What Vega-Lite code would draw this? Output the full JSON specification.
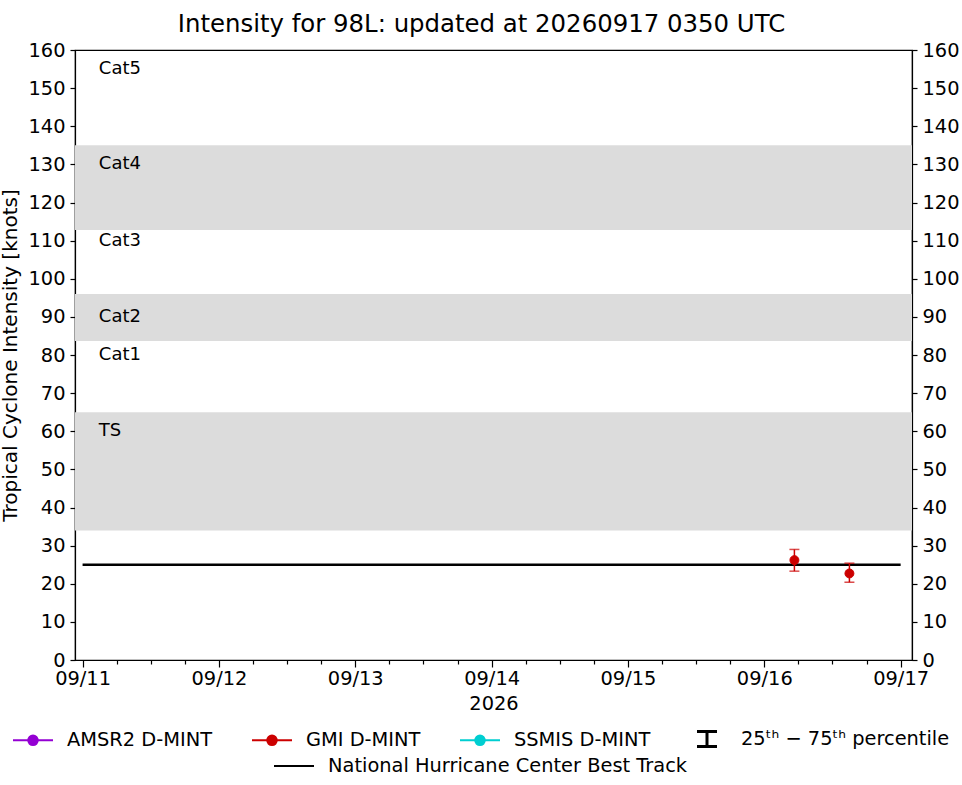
{
  "$schema": "https://vega.github.io/schema/vega-lite/v6.json",
  "width": 837,
  "height": 610,
  "autosize": {"type": "none"},
  "padding": {"left": 75, "top": 50, "right": 50, "bottom": 125},
  "background": "white",
  "title": {"text": "Intensity for 98L: updated at 20260917 0350 UTC", "font": "DejaVu Sans", "fontSize": 24.4, "fontWeight": "normal", "color": "black", "anchor": "middle", "frame": "group", "dx": -12, "offset": 3},
  "config": {
    "font": "DejaVu Sans",
    "view": {"stroke": "black", "strokeWidth": 1.2},
    "axis": {"grid": false, "domainColor": "black", "domainWidth": 1.2, "tickColor": "black", "tickWidth": 1.2, "labelColor": "black", "titleColor": "black", "labelFont": "DejaVu Sans", "titleFont": "DejaVu Sans", "labelFontSize": 19.4, "titleFontSize": 19.4, "titleFontWeight": "normal"},
    "legend": {"labelFont": "DejaVu Sans", "labelFontSize": 19.4, "labelColor": "black", "labelOffset": 13, "labelLimit": 0, "columnPadding": 35, "padding": 0, "symbolSize": 1600, "symbolStrokeWidth": 2}
  },
  "datasets": {
    "bands": [{"lo": 34, "hi": 65}, {"lo": 83.7, "hi": 96}, {"lo": 112.8, "hi": 135}],
    "cats": [
      {"time": "2026-09-11T02:52:00Z", "v": 155, "label": "Cat5"},
      {"time": "2026-09-11T02:52:00Z", "v": 130, "label": "Cat4"},
      {"time": "2026-09-11T02:52:00Z", "v": 110, "label": "Cat3"},
      {"time": "2026-09-11T02:52:00Z", "v": 90, "label": "Cat2"},
      {"time": "2026-09-11T02:52:00Z", "v": 80, "label": "Cat1"},
      {"time": "2026-09-11T02:52:00Z", "v": 60, "label": "TS"}
    ],
    "besttrack": [
      {"time": "2026-09-11T00:00:00Z", "vmax": 25, "track": "National Hurricane Center Best Track"},
      {"time": "2026-09-11T12:00:00Z", "vmax": 25, "track": "National Hurricane Center Best Track"},
      {"time": "2026-09-12T00:00:00Z", "vmax": 25, "track": "National Hurricane Center Best Track"},
      {"time": "2026-09-12T12:00:00Z", "vmax": 25, "track": "National Hurricane Center Best Track"},
      {"time": "2026-09-13T00:00:00Z", "vmax": 25, "track": "National Hurricane Center Best Track"},
      {"time": "2026-09-13T12:00:00Z", "vmax": 25, "track": "National Hurricane Center Best Track"},
      {"time": "2026-09-14T00:00:00Z", "vmax": 25, "track": "National Hurricane Center Best Track"},
      {"time": "2026-09-14T12:00:00Z", "vmax": 25, "track": "National Hurricane Center Best Track"},
      {"time": "2026-09-15T00:00:00Z", "vmax": 25, "track": "National Hurricane Center Best Track"},
      {"time": "2026-09-15T12:00:00Z", "vmax": 25, "track": "National Hurricane Center Best Track"},
      {"time": "2026-09-16T00:00:00Z", "vmax": 25, "track": "National Hurricane Center Best Track"},
      {"time": "2026-09-16T12:00:00Z", "vmax": 25, "track": "National Hurricane Center Best Track"},
      {"time": "2026-09-17T00:00:00Z", "vmax": 25, "track": "National Hurricane Center Best Track"}
    ],
    "dmint": [
      {"time": "2026-09-16T05:18:00Z", "series": "GMI D-MINT", "vmax": 26.2, "p25": 23.3, "p75": 29.0},
      {"time": "2026-09-16T14:59:00Z", "series": "GMI D-MINT", "vmax": 22.7, "p25": 20.4, "p75": 25.4}
    ]
  },
  "layer": [
    {
      "data": {"name": "bands"},
      "mark": {"type": "rect", "color": "#dcdcdc"},
      "encoding": {
        "y": {"field": "lo", "type": "quantitative", "scale": {"domain": [0, 160], "nice": false}, "axis": {"orient": "left", "values": [0, 10, 20, 30, 40, 50, 60, 70, 80, 90, 100, 110, 120, 130, 140, 150, 160], "tickSize": 5, "labelPadding": 5, "title": "Tropical Cyclone Intensity [knots]", "titleFontSize": 20, "titlePadding": 7}},
        "y2": {"field": "hi"}
      }
    },
    {
      "data": {"name": "cats"},
      "mark": {"type": "text", "align": "left", "baseline": "middle", "font": "DejaVu Sans", "fontSize": 18, "color": "black"},
      "encoding": {
        "x": {"field": "time", "type": "temporal", "scale": {"type": "utc", "domain": [{"year": 2026, "month": 9, "date": 10, "hours": 22, "minutes": 40, "utc": true}, {"year": 2026, "month": 9, "date": 17, "hours": 2, "minutes": 0, "utc": true}]}, "axis": null},
        "y": {"field": "v", "type": "quantitative", "scale": {"domain": [0, 160], "nice": false}, "axis": null},
        "text": {"field": "label"}
      }
    },
    {
      "data": {"name": "besttrack"},
      "mark": {"type": "line", "strokeWidth": 2.5},
      "encoding": {
        "x": {"field": "time", "type": "temporal", "axis": {"orient": "bottom", "labelExpr": "utcFormat(datum.value, '%m/%d')", "values": [
          {"year": 2026, "month": 9, "date": 11, "utc": true}, {"year": 2026, "month": 9, "date": 12, "utc": true}, {"year": 2026, "month": 9, "date": 13, "utc": true}, {"year": 2026, "month": 9, "date": 14, "utc": true}, {"year": 2026, "month": 9, "date": 15, "utc": true}, {"year": 2026, "month": 9, "date": 16, "utc": true}, {"year": 2026, "month": 9, "date": 17, "utc": true}],
          "tickSize": 7, "labelPadding": 2, "labelFlush": false, "labelOverlap": false, "title": "2026", "titlePadding": 7}},
        "y": {"field": "vmax", "type": "quantitative", "axis": {"orient": "right", "values": [0, 10, 20, 30, 40, 50, 60, 70, 80, 90, 100, 110, 120, 130, 140, 150, 160], "tickSize": 5, "labelPadding": 5, "title": null}},
        "color": {"field": "track", "type": "nominal", "scale": {"domain": ["National Hurricane Center Best Track"], "range": ["black"]}, "legend": {"orient": "none", "legendX": 198, "legendY": 695, "title": null, "symbolType": "stroke", "symbolStrokeWidth": 2}}
      }
    },
    {
      "data": {"name": "dmint"},
      "mark": {"type": "rule", "color": "#cc0000", "strokeWidth": 1.5},
      "encoding": {
        "x": {"field": "time", "type": "temporal", "axis": {"orient": "bottom", "labels": false, "domain": false, "title": null, "tickSize": 4, "values": [
          {"year": 2026, "month": 9, "date": 11, "hours": 6, "utc": true}, {"year": 2026, "month": 9, "date": 11, "hours": 12, "utc": true}, {"year": 2026, "month": 9, "date": 11, "hours": 18, "utc": true},
          {"year": 2026, "month": 9, "date": 12, "hours": 6, "utc": true}, {"year": 2026, "month": 9, "date": 12, "hours": 12, "utc": true}, {"year": 2026, "month": 9, "date": 12, "hours": 18, "utc": true},
          {"year": 2026, "month": 9, "date": 13, "hours": 6, "utc": true}, {"year": 2026, "month": 9, "date": 13, "hours": 12, "utc": true}, {"year": 2026, "month": 9, "date": 13, "hours": 18, "utc": true},
          {"year": 2026, "month": 9, "date": 14, "hours": 6, "utc": true}, {"year": 2026, "month": 9, "date": 14, "hours": 12, "utc": true}, {"year": 2026, "month": 9, "date": 14, "hours": 18, "utc": true},
          {"year": 2026, "month": 9, "date": 15, "hours": 6, "utc": true}, {"year": 2026, "month": 9, "date": 15, "hours": 12, "utc": true}, {"year": 2026, "month": 9, "date": 15, "hours": 18, "utc": true},
          {"year": 2026, "month": 9, "date": 16, "hours": 6, "utc": true}, {"year": 2026, "month": 9, "date": 16, "hours": 12, "utc": true}, {"year": 2026, "month": 9, "date": 16, "hours": 18, "utc": true}]}},
        "y": {"field": "p25", "type": "quantitative", "axis": null},
        "y2": {"field": "p75"}
      }
    },
    {
      "data": {"name": "dmint"},
      "mark": {"type": "tick", "color": "#cc0000", "orient": "horizontal", "size": 10, "thickness": 1.5},
      "encoding": {
        "x": {"field": "time", "type": "temporal", "axis": null},
        "y": {"field": "p25", "type": "quantitative", "axis": null}
      }
    },
    {
      "data": {"name": "dmint"},
      "mark": {"type": "tick", "color": "#cc0000", "orient": "horizontal", "size": 10, "thickness": 1.5},
      "encoding": {
        "x": {"field": "time", "type": "temporal", "axis": null},
        "y": {"field": "p75", "type": "quantitative", "axis": null}
      }
    },
    {
      "data": {"name": "dmint"},
      "mark": {"type": "point", "filled": true, "opacity": 1, "size": 80, "strokeWidth": 1, "color": "#cc0000", "stroke": "#cc0000"},
      "encoding": {
        "x": {"field": "time", "type": "temporal", "axis": null},
        "y": {"field": "vmax", "type": "quantitative", "axis": null}
      }
    },
    {
      "data": {"name": "dmint"},
      "mark": {"type": "point", "filled": true, "opacity": 0},
      "encoding": {
        "x": {"field": "time", "type": "temporal", "axis": null},
        "y": {"field": "vmax", "type": "quantitative", "axis": null},
        "fill": {"field": "series", "type": "nominal", "scale": {"domain": ["AMSR2 D-MINT", "GMI D-MINT", "SSMIS D-MINT", "25ᵗʰ − 75ᵗʰ percentile"], "range": ["#9400d3", "#cc0000", "#00ced1", "black"]},
          "legend": {"orient": "none", "legendX": -63, "legendY": 668, "direction": "horizontal", "columns": 4, "title": null, "symbolOpacity": 1}},
        "stroke": {"field": "series", "type": "nominal", "scale": {"domain": ["AMSR2 D-MINT", "GMI D-MINT", "SSMIS D-MINT", "25ᵗʰ − 75ᵗʰ percentile"], "range": ["#9400d3", "#cc0000", "#00ced1", "black"]},
          "legend": {"orient": "none", "legendX": -63, "legendY": 668, "direction": "horizontal", "columns": 4, "title": null, "symbolOpacity": 1}},
        "shape": {"field": "series", "type": "nominal", "scale": {"domain": ["AMSR2 D-MINT", "GMI D-MINT", "SSMIS D-MINT", "25ᵗʰ − 75ᵗʰ percentile"], "range": ["M-1,0H1M-0.24,0A0.24,0.24 0 1,0 0.24,0A0.24,0.24 0 1,0 -0.24,0", "M-1,0H1M-0.24,0A0.24,0.24 0 1,0 0.24,0A0.24,0.24 0 1,0 -0.24,0", "M-1,0H1M-0.24,0A0.24,0.24 0 1,0 0.24,0A0.24,0.24 0 1,0 -0.24,0", "M-0.45,-0.4H0.45V-0.35H0.025V0.35H0.45V0.4H-0.45V0.35H-0.025V-0.35H-0.45Z"]},
          "legend": {"orient": "none", "legendX": -63, "legendY": 668, "direction": "horizontal", "columns": 4, "title": null, "symbolOpacity": 1}}
      }
    }
  ],
  "resolve": {"axis": {"x": "independent", "y": "independent"}}
}
